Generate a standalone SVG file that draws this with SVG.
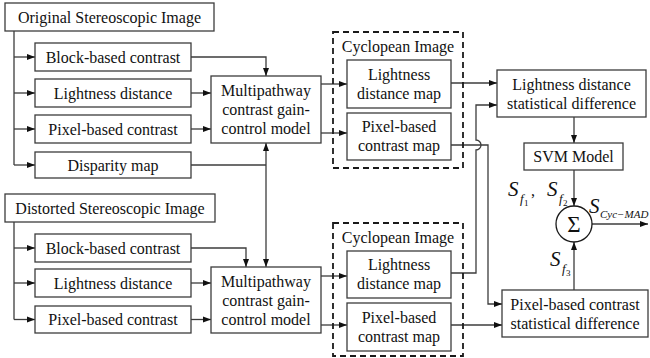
<svg xmlns="http://www.w3.org/2000/svg" width="650" height="358" viewBox="0 0 650 358">
<style>
.b{fill:#fff;stroke:#3c3c3c;stroke-width:1.3}
.d{fill:none;stroke:#1a1a1a;stroke-width:1.8;stroke-dasharray:6,4}
.t{font-family:'Liberation Serif','Tinos','Times New Roman','DejaVu Serif',serif;font-size:16px;fill:#111;text-anchor:middle}
.c{fill:none;stroke:#3c3c3c;stroke-width:1.3}
.a{marker-end:url(#ah)}
.m{font-family:'Liberation Serif','Tinos','Times New Roman','DejaVu Serif',serif;font-style:italic;fill:#111}
</style>
<defs>
<marker id="ah" markerUnits="userSpaceOnUse" markerWidth="9" markerHeight="7" refX="8" refY="3.5" orient="auto">
<path d="M0,0.5 L8,3.5 L0,6.5 z" fill="#111"/>
</marker>
</defs>
<rect width="650" height="358" fill="#fff"/>
<g id="connectors">
<path class="c" d="M14,31 V165"/>
<path class="c a" d="M14,57 H35"/>
<path class="c a" d="M14,93 H35"/>
<path class="c a" d="M14,129 H35"/>
<path class="c a" d="M14,165 H35"/>
<path class="c" d="M14,222 V319.5"/>
<path class="c a" d="M14,248 H35"/>
<path class="c a" d="M14,283 H35"/>
<path class="c a" d="M14,319.5 H35"/>
<path class="c a" d="M191,57 H266 V76"/>
<path class="c a" d="M191,93 H211"/>
<path class="c a" d="M191,129 H211"/>
<path class="c" d="M191,165 H266"/>
<path class="c a" d="M266,200 V143"/>
<path class="c a" d="M266,200 V267"/>
<path class="c a" d="M191,248 H246 V267"/>
<path class="c a" d="M191,283 H211"/>
<path class="c a" d="M191,319.5 H211"/>
<path class="c a" d="M321,84 H347"/>
<path class="c a" d="M321,133 H347"/>
<path class="c a" d="M321,276 H347"/>
<path class="c a" d="M321,325 H347"/>
<path class="c a" d="M451,83 H497"/>
<path class="c a" d="M451,145 H488 V304 H502"/>
<path class="c a" d="M451,273 H476 V150 A5,5 0 0 0 476,140 V105 H497"/>
<path class="c a" d="M451,325 H502"/>
<path class="c a" d="M574,117 V143"/>
<path class="c a" d="M574,170 V206"/>
<path class="c a" d="M574,290 V242"/>
<path class="c a" d="M592,224 H648"/>
</g>
<g id="original"><rect class="b" x="5" y="3" width="209" height="28"/><text class="t" x="109.5" y="23">Original Stereoscopic Image</text></g>
<g id="block1"><rect class="b" x="35" y="43" width="156" height="28"/><text class="t" x="113" y="63">Block-based contrast</text></g>
<g id="light1"><rect class="b" x="35" y="79" width="156" height="28"/><text class="t" x="113" y="99">Lightness distance</text></g>
<g id="pixel1"><rect class="b" x="35" y="115" width="156" height="28"/><text class="t" x="113" y="135">Pixel-based contrast</text></g>
<g id="disparity"><rect class="b" x="35" y="152" width="156" height="26"/><text class="t" x="113" y="171">Disparity map</text></g>
<g id="mp1"><rect class="b" x="211" y="76" width="110" height="67"/><text class="t" x="266" y="96">Multipathway</text><text class="t" x="266" y="115">contrast gain-</text><text class="t" x="266" y="134">control model</text></g>
<g id="cyc1"><rect class="d" x="333" y="32" width="130" height="136"/><text class="t" x="398" y="52">Cyclopean Image</text></g>
<g id="ldmap1"><rect class="b" x="347" y="60" width="104" height="48"/><text class="t" x="399" y="80">Lightness</text><text class="t" x="399" y="99">distance map</text></g>
<g id="pcmap1"><rect class="b" x="347" y="113" width="104" height="47"/><text class="t" x="399" y="132">Pixel-based</text><text class="t" x="399" y="151">contrast map</text></g>
<g id="distorted"><rect class="b" x="5" y="194" width="210" height="28"/><text class="t" x="110" y="214">Distorted Stereoscopic Image</text></g>
<g id="block2"><rect class="b" x="35" y="234" width="156" height="28"/><text class="t" x="113" y="254">Block-based contrast</text></g>
<g id="light2"><rect class="b" x="35" y="269" width="156" height="28"/><text class="t" x="113" y="289">Lightness distance</text></g>
<g id="pixel2"><rect class="b" x="35" y="306" width="156" height="27"/><text class="t" x="113" y="325">Pixel-based contrast</text></g>
<g id="mp2"><rect class="b" x="211" y="267" width="110" height="66"/><text class="t" x="266" y="287">Multipathway</text><text class="t" x="266" y="306">contrast gain-</text><text class="t" x="266" y="325">control model</text></g>
<g id="cyc2"><rect class="d" x="333" y="223" width="130" height="133"/><text class="t" x="398" y="243">Cyclopean Image</text></g>
<g id="ldmap2"><rect class="b" x="347" y="251" width="104" height="47"/><text class="t" x="399" y="270">Lightness</text><text class="t" x="399" y="289">distance map</text></g>
<g id="pcmap2"><rect class="b" x="347" y="303" width="104" height="48"/><text class="t" x="399" y="323">Pixel-based</text><text class="t" x="399" y="342">contrast map</text></g>
<g id="ldsd"><rect class="b" x="497" y="70" width="149" height="47"/><text class="t" x="571.5" y="90">Lightness distance</text><text class="t" x="571.5" y="109">statistical difference</text></g>
<g id="svm"><rect class="b" x="524" y="143" width="99" height="27"/><text class="t" x="573.5" y="162">SVM Model</text></g>
<g id="pcsd"><rect class="b" x="502" y="290" width="146" height="47"/><text class="t" x="575" y="310">Pixel-based contrast</text><text class="t" x="575" y="329">statistical difference</text></g>
<g id="sum"><circle cx="574" cy="224" r="18" fill="#fff" stroke="#1a1a1a" stroke-width="1.3"/><text class="t" x="574" y="232" style="font-size:23px">Σ</text></g>
<g id="labels">
<text class="m"><tspan x="508" y="196" font-size="21">S</tspan><tspan x="520" y="203" font-size="13">f</tspan><tspan x="524" y="206" font-size="9" font-style="normal">1</tspan><tspan x="531" y="196" font-size="16" font-style="normal">,</tspan><tspan x="547" y="196" font-size="21">S</tspan><tspan x="559" y="203" font-size="13">f</tspan><tspan x="563" y="206" font-size="9" font-style="normal">2</tspan></text>
<text class="m"><tspan x="589" y="213" font-size="21">S</tspan><tspan x="600" y="218" font-size="11">Cyc−MAD</tspan></text>
<text class="m"><tspan x="550" y="266" font-size="21">S</tspan><tspan x="562" y="273" font-size="13">f</tspan><tspan x="566" y="276" font-size="9" font-style="normal">3</tspan></text>
</g>
</svg>
